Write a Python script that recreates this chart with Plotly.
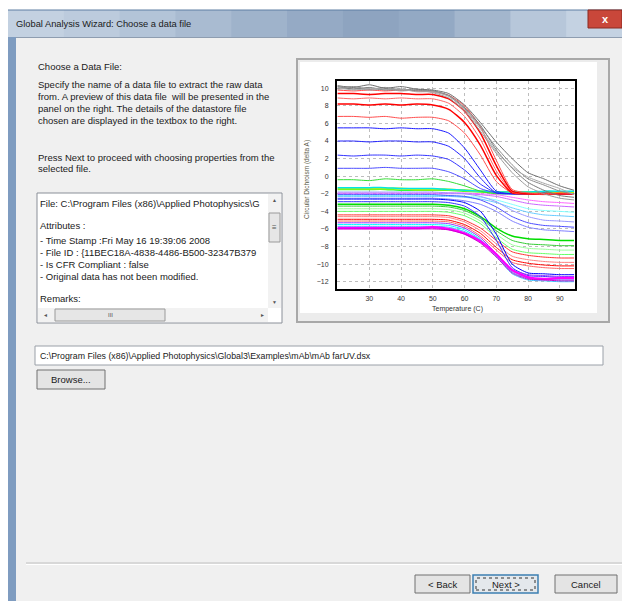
import plotly.graph_objects as go

# ---------------- data ----------------
TEMP = [20, 25, 30, 35, 40, 45, 50, 55, 60, 65, 70, 75, 80, 85, 90, 94.5]
X_TICKS = [30, 40, 50, 60, 70, 80, 90]
Y_TICKS = [-12, -10, -8, -6, -4, -2, 0, 2, 4, 6, 8, 10]

gray_1 = [10.3, 10.1, 10.4, 10.0, 10.2, 9.9, 9.8, 9.4, 8.1, 6.1, 3.9, 2.0, 0.4, -0.3, -1.1, -1.6]
gray_2 = [10.0, 10.2, 9.9, 10.1, 9.8, 9.9, 9.7, 9.1, 7.7, 5.6, 3.3, 1.3, -0.3, -1.0, -1.7, -2.0]
gray_3 = [10.2, 9.9, 10.1, 9.8, 9.9, 9.7, 9.7, 9.2, 7.8, 5.8, 3.0, 0.9, -0.7, -1.6, -2.2, -2.4]
gray_4 = [9.9, 10.0, 9.8, 9.9, 9.7, 9.8, 9.5, 8.9, 7.4, 5.1, 2.6, 0.4, -1.2, -2.0, -2.5, -2.7]
gray_5 = [10.1, 9.8, 10.0, 9.9, 9.9, 9.6, 9.6, 9.1, 7.6, 5.4, 2.8, 1.0, -0.1, -0.8, -1.4, -2.1]

red_1 = [9.8, 9.7, 9.8, 9.7, 9.8, 9.7, 9.6, 9.2, 8.0, 5.6, 1.8, -1.5, -1.9, -2.0, -1.9, -2.0]
red_2 = [9.4, 9.4, 9.3, 9.4, 9.4, 9.3, 9.3, 8.8, 7.4, 4.9, 1.2, -1.7, -2.0, -2.0, -2.0, -2.0]
red_3 = [8.9, 8.8, 8.9, 8.8, 8.9, 8.8, 8.8, 8.3, 6.8, 4.2, 0.6, -1.8, -2.0, -2.1, -2.0, -2.0]
red_4 = [8.2, 8.2, 8.1, 8.2, 8.1, 8.2, 8.1, 7.6, 6.1, 3.5, 0.1, -1.9, -2.0, -2.0, -2.0, -2.0]
red_5 = [6.8, 6.8, 6.7, 6.8, 6.6, 6.7, 6.7, 6.3, 4.9, 2.4, -0.6, -1.9, -2.0, -2.0, -2.0, -2.0]

blue_1 = [5.5, 5.5, 5.5, 5.4, 5.5, 5.4, 5.4, 4.9, 3.2, 0.7, -1.7, -2.0, -2.0, -1.9, -2.0, -2.0]
blue_2 = [4.0, 4.0, 3.9, 4.0, 4.0, 3.9, 3.9, 3.4, 2.0, -0.2, -1.9, -2.0, -2.0, -2.0, -2.0, -2.0]
blue_3 = [2.4, 2.3, 2.4, 2.4, 2.3, 2.4, 2.3, 1.9, 0.7, -0.9, -1.9, -2.0, -2.0, -2.0, -2.0, -2.0]
blue_4 = [0.9, 0.9, 0.9, 1.0, 0.9, 0.9, 0.9, 0.5, -0.3, -1.4, -1.9, -2.0, -2.0, -2.0, -2.0, -2.0]
green_1 = [-0.4, -0.4, -0.5, -0.3, -0.4, -0.4, -0.3, -0.6, -1.1, -1.7, -2.0, -2.0, -2.0, -2.0, -2.0, -2.0]

flat_cyan = [-1.3, -1.3, -1.3, -1.3, -1.4, -1.4, -1.4, -1.5, -1.6, -1.7, -1.8, -1.8, -1.8, -1.7, -1.7, -1.7]
flat_lime = [-1.4, -1.4, -1.4, -1.4, -1.4, -1.5, -1.5, -1.5, -1.6, -1.7, -1.8, -1.8, -1.8, -1.8, -1.8, -1.8]
flat_green = [-1.5, -1.5, -1.5, -1.5, -1.6, -1.6, -1.6, -1.6, -1.7, -1.8, -1.9, -1.9, -1.9, -1.9, -1.9, -1.9]

low_1 = [-1.9, -1.9, -1.9, -1.9, -1.9, -1.9, -1.9, -1.9, -1.9, -2.0, -2.1, -2.4, -2.7, -2.9, -3.0, -3.1]
low_2 = [-2.0, -2.0, -2.0, -2.0, -2.0, -2.0, -2.0, -2.0, -2.0, -2.1, -2.3, -2.7, -3.1, -3.3, -3.4, -3.5]
low_3 = [-2.2, -2.2, -2.2, -2.2, -2.2, -2.2, -2.2, -2.2, -2.3, -2.4, -2.7, -3.2, -3.7, -3.9, -4.0, -4.1]
low_4 = [-2.3, -2.3, -2.3, -2.3, -2.3, -2.3, -2.3, -2.3, -2.4, -2.6, -3.0, -3.6, -4.1, -4.4, -4.5, -4.6]
low_5 = [-1.8, -1.8, -1.8, -1.8, -1.8, -1.8, -1.8, -1.9, -2.0, -2.3, -2.9, -3.9, -4.6, -5.0, -5.1, -5.2]
low_6 = [-2.1, -2.1, -2.1, -2.1, -2.1, -2.1, -2.1, -2.2, -2.3, -2.7, -3.5, -4.6, -5.3, -5.6, -5.7, -5.8]
low_7 = [-2.5, -2.5, -2.5, -2.5, -2.5, -2.5, -2.5, -2.6, -2.8, -3.2, -4.0, -5.1, -5.8, -6.1, -6.2, -6.3]
low_8 = [-3.2, -3.2, -3.2, -3.2, -3.2, -3.2, -3.2, -3.3, -3.7, -4.6, -5.9, -6.8, -7.1, -7.2, -7.3, -7.3]
low_9 = [-3.4, -3.4, -3.4, -3.4, -3.4, -3.4, -3.4, -3.5, -3.9, -4.8, -6.2, -7.3, -7.7, -7.8, -7.9, -7.9]
low_10 = [-3.7, -3.7, -3.7, -3.7, -3.7, -3.7, -3.7, -3.8, -4.2, -5.1, -6.6, -7.8, -8.2, -8.3, -8.4, -8.4]
low_11 = [-4.0, -4.0, -4.0, -4.0, -4.0, -4.0, -4.0, -4.1, -4.5, -5.4, -7.0, -8.3, -8.7, -8.8, -8.9, -8.9]
low_12 = [-4.4, -4.4, -4.4, -4.4, -4.4, -4.4, -4.4, -4.5, -5.0, -5.9, -7.3, -8.6, -9.0, -9.2, -9.3, -9.3]
low_13 = [-4.6, -4.6, -4.6, -4.6, -4.6, -4.6, -4.6, -4.7, -5.2, -6.2, -7.7, -9.1, -9.5, -9.7, -9.8, -9.8]
low_14 = [-4.9, -4.9, -4.9, -4.9, -4.9, -4.9, -4.9, -5.0, -5.5, -6.5, -8.1, -9.5, -9.9, -10.1, -10.2, -10.2]
low_15 = [-5.1, -5.1, -5.1, -5.1, -5.1, -5.1, -5.1, -5.2, -5.7, -6.8, -8.4, -9.8, -10.2, -10.4, -10.5, -10.5]
low_16 = [-2.6, -2.6, -2.6, -2.6, -2.6, -2.6, -2.6, -2.7, -3.0, -4.0, -6.6, -10.0, -11.0, -11.1, -11.2, -11.2]
low_17 = [-2.9, -2.9, -2.9, -2.9, -2.9, -2.9, -2.9, -3.0, -3.4, -4.6, -7.3, -10.4, -11.3, -11.4, -11.5, -11.5]
low_18 = [-5.3, -5.3, -5.3, -5.3, -5.3, -5.3, -5.3, -5.4, -5.9, -7.0, -8.8, -10.6, -11.2, -11.3, -11.4, -11.4]
low_19 = [-5.5, -5.5, -5.5, -5.5, -5.5, -5.5, -5.5, -5.6, -6.1, -7.2, -9.0, -10.9, -11.6, -11.7, -11.8, -11.8]
low_20 = [-5.7, -5.7, -5.7, -5.7, -5.7, -5.7, -5.7, -5.8, -6.3, -7.3, -9.1, -11.1, -11.8, -11.9, -12.0, -12.0]
low_21 = [-5.9, -5.9, -5.9, -5.9, -5.9, -5.9, -5.8, -6.0, -6.5, -7.4, -8.9, -10.7, -11.5, -11.7, -11.6, -11.6]
low_22 = [-6.0, -6.0, -6.0, -6.0, -6.0, -6.0, -6.0, -6.1, -6.6, -7.6, -9.2, -11.0, -11.7, -11.8, -11.9, -11.9]

# (values, colour, width) -- styles kept separate from the value arrays
SERIES = [
    (low_1, "#ff66ff", 1), (low_2, "#cc66ff", 1), (low_3, "#80ffff", 1), (low_4, "#66ccff", 1),
    (low_5, "#9999ff", 1), (low_6, "#4d4dff", 1), (low_7, "#8080ff", 1),
    (low_8, "#00dd00", 1.5), (low_9, "#33cc33", 1), (low_10, "#99ff99", 1), (low_11, "#66ff66", 1),
    (low_12, "#ff3333", 1), (low_13, "#ff8080", 1), (low_14, "#ff0000", 1), (low_15, "#ff6666", 1),
    (low_16, "#0000ff", 1), (low_17, "#3333ff", 1), (low_18, "#9933ff", 1),
    (low_19, "#00ffff", 1), (low_20, "#33ccff", 1), (low_21, "#ff00ff", 2.5), (low_22, "#cc00cc", 1),
    (flat_green, "#33ff33", 1.5), (flat_lime, "#c8f000", 2), (flat_cyan, "#00e6e6", 1.5),
    (green_1, "#33dd33", 1),
    (blue_4, "#4d4dff", 1), (blue_3, "#3333ff", 1), (blue_2, "#2020ff", 1), (blue_1, "#1a1aff", 1),
    (red_5, "#ff4d4d", 1), (red_4, "#ff0000", 1.5), (red_3, "#ff6666", 1), (red_2, "#ff0000", 1.5), (red_1, "#ff4d4d", 1),
    (gray_4, "#9a9a9a", 1), (gray_3, "#7a7a7a", 1), (gray_2, "#8c8c8c", 1), (gray_5, "#a8a8a8", 1), (gray_1, "#6e6e6e", 1),
]

# ---------------- layout helpers (pixel -> paper) ----------------
W, H = 622, 601


def px(x):
    return x / W


def py(y):
    return 1 - y / H


shapes = []
annotations = []


def rect(x0, y0, x1, y1, fill, line="rgba(0,0,0,0)", lw=1, dash="solid"):
    shapes.append(dict(type="rect", xref="paper", yref="paper", x0=px(x0), x1=px(x1),
                       y0=py(y1), y1=py(y0), fillcolor=fill,
                       line=dict(color=line, width=lw, dash=dash), layer="below"))


def hline(x0, x1, y, color, lw=1):
    shapes.append(dict(type="line", xref="paper", yref="paper", x0=px(x0), x1=px(x1),
                       y0=py(y), y1=py(y), line=dict(color=color, width=lw), layer="below"))


FONT = "Liberation Sans, Arial, sans-serif"


def text(x, y, s, size=9.5, color="#1a1a1a", anchor="left", angle=0):
    annotations.append(dict(xref="paper", yref="paper", x=px(x), y=py(y), text=s,
                            showarrow=False, xanchor=anchor, yanchor="middle", textangle=angle,
                            font=dict(family=FONT, size=size, color=color)))


# window frame and title bar
rect(8, 10, 16, 601, "#7f9cc0")
strip_cols = ["#c3d1e1", "#bccbdd", "#b3c4d8", "#a9bbd1", "#9fb3cb", "#95aac5", "#8ea4c0",
              "#93a9c4", "#a3b6cd", "#b7c7da", "#c4d2e2"]
n = len(strip_cols)
for i, c in enumerate(strip_cols):
    rect(8 + (622 - 8) * i / n, 10, 8 + (622 - 8) * (i + 1) / n + 1, 37, c)
hline(8, 622, 10, "#5f7ea3", 1)
rect(588, 10, 622, 28, "#c9473a", "#8a2a20", 1)
text(605, 19, "<b>x</b>", size=11, color="white", anchor="center")
text(14, 24, "Global Analysis Wizard: Choose a data file", size=9.3)

# content background
rect(16, 37, 622, 601, "#f0f0f0")
hline(16, 622, 37.5, "#8e9db0", 1)

# left description text
text(36, 66, "Choose a Data File:")
para = ["Specify the name of a data file to extract the raw data",
        "from. A preview of this data file  will be presented in the",
        "panel on the right. The details of the datastore file",
        "chosen are displayed in the textbox to the right."]
for i, s in enumerate(para):
    text(36, 85 + i * 11.8, s)
text(36, 157, "Press Next to proceed with choosing properties from the")
text(36, 168.5, "selected file.")

# details text box
rect(37, 193, 282, 323, "white", "#8a8f98", 1)
rect(268, 194, 281, 308, "#f2f2f2")
rect(269, 213, 280, 242, "#e6e6e6", "#9a9a9a", 1)
text(274.5, 227.5, "≡", size=8, color="#555", anchor="center")
text(274.5, 200, "▲", size=5, color="#555", anchor="center")
text(274.5, 302, "▼", size=5, color="#555", anchor="center")
rect(38, 308, 268, 322, "#f2f2f2")
rect(55, 309, 165, 321, "#e6e6e6", "#9a9a9a", 1)
text(110, 315, "III", size=6, color="#555", anchor="center")
text(45, 315, "◄", size=5, color="#555", anchor="center")
text(262, 315, "►", size=5, color="#555", anchor="center")
details = [(204, "File: C:\\Program Files (x86)\\Applied Photophysics\\G"),
           (225, "Attributes :"),
           (240, "- Time Stamp :Fri May 16 19:39:06 2008"),
           (252.5, "- File ID : {11BEC18A-4838-4486-B500-32347B379"),
           (264, "- Is CFR Compliant : false"),
           (276, "- Original data has not been modified."),
           (298, "Remarks:")]
for yy, s in details:
    text(38, yy, s)

# file path box and Browse button
rect(35, 346, 603, 365, "white", "#9aa0a8", 1)
text(38, 355.5, "C:\\Program Files (x86)\\Applied Photophysics\\Global3\\Examples\\mAb\\mAb farUV.dsx", size=8.8)
rect(37, 370, 105, 389, "#e4e4e4", "#707070", 1)
text(71, 379.5, "Browse...", anchor="center")

# separator and bottom buttons
hline(26, 622, 563, "#d0d0d0", 1.5)
hline(26, 622, 564.5, "#ffffff", 1)
rect(415, 575, 470, 593, "#e4e4e4", "#707070", 1)
text(442.5, 584, "< Back", anchor="center")
rect(473, 575, 538, 593, "#e4e8ec", "#3c7fb1", 1.5)
rect(476, 578, 535, 590, "rgba(0,0,0,0)", "#333333", 1, dash="dot")
text(505.5, 584, "Next >", anchor="center")
rect(555, 575, 617, 593, "#e4e4e4", "#707070", 1)
text(586, 584, "Cancel", anchor="center")

# chart panel
rect(297, 59, 609, 322, "#ececec", "#a8a8a8", 2)
rect(300, 62, 597, 313, "#ffffff")

# axis titles
text(307, 180, "Circular Dichroism (delta A)", size=6.5, color="#5a5a48", anchor="center", angle=-90)
text(457, 308.5, "Temperature (C)", size=7, color="#333", anchor="center")

fig = go.Figure()
for vals, col, wd in SERIES:
    fig.add_trace(go.Scatter(x=TEMP, y=vals, mode="lines",
                             line=dict(color=col, width=wd, shape="spline", smoothing=0.6),
                             showlegend=False, hoverinfo="skip"))

axis_common = dict(showgrid=True, gridcolor="#bdbdbd", griddash="dot", gridwidth=1,
                   showline=True, linecolor="black", linewidth=2, mirror=True,
                   zeroline=False, ticks="", tickfont=dict(family=FONT, size=7, color="#333"))
fig.update_layout(
    width=W, height=H, margin=dict(l=0, r=0, t=0, b=0),
    paper_bgcolor="white", plot_bgcolor="white",
    xaxis=dict(domain=[px(337), px(575)], range=[19.8, 94.8], tickvals=X_TICKS,
               ticklabelstandoff=2, **axis_common),
    yaxis=dict(domain=[py(289), py(81)], range=[-12.83, 10.83], tickvals=Y_TICKS,
               ticklabelstandoff=5, **axis_common),
    shapes=shapes, annotations=annotations,
)

fig.write_html("out.html")
